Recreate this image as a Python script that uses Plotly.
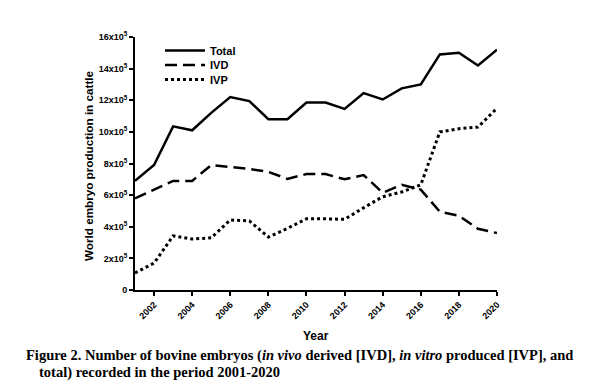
import plotly.graph_objects as go

years = list(range(2001, 2021))
total = [6.9, 7.9, 10.35, 10.1, 11.2, 12.2, 11.95, 10.8, 10.8, 11.85,
         11.85, 11.45, 12.45, 12.05, 12.75, 13.0, 14.9, 15.0, 14.2, 15.2]
ivd = [5.8, 6.35, 6.9, 6.9, 7.9, 7.78, 7.65, 7.47, 7.03, 7.33,
       7.33, 7.0, 7.27, 6.15, 6.65, 6.35, 4.95, 4.7, 3.87, 3.6]
ivp = [1.08, 1.7, 3.42, 3.22, 3.3, 4.43, 4.37, 3.35, 3.9, 4.5,
       4.5, 4.47, 5.2, 5.9, 6.2, 6.65, 10.0, 10.2, 10.3, 11.5]
scale = 1e5
ytick_vals = [0, 2, 4, 6, 8, 10, 12, 14, 16]
ytick_text = ["0"] + [f"{v}x10<sup>5</sup>" for v in ytick_vals[1:]]
xtick_vals = list(range(2002, 2021, 2))

# page has an 8px body margin: figure starts at (8, 8)
OFF = 8
W, H = 590, 377
L, T = 135 - OFF, 37 - OFF
R = W - (497 - OFF)
B = H - (290 - OFF)
ph = H - T - B
pw = W - L - R


def px(xp):
    return (xp - OFF - L) / pw


def py(yp):
    return 1 - (yp - OFF - T) / ph


fig = go.Figure()
fig.add_trace(go.Scatter(x=years, y=[v * scale for v in total], name="Total", mode="lines",
                         line=dict(color="black", width=2.5), legend="legend"))
fig.add_trace(go.Scatter(x=years, y=[v * scale for v in ivd], name="IVD", mode="lines",
                         line=dict(color="black", width=2.5, dash="12px,6px"), legend="legend2"))
fig.add_trace(go.Scatter(x=years, y=[v * scale for v in ivp], name="IVP", mode="lines",
                         line=dict(color="black", width=3, dash="dot"), legend="legend3"))

leg_font = dict(size=11, family="Liberation Sans, Arial", weight="bold", color="black")
leg_x = px(160)


def leg(yc):
    return dict(x=leg_x, y=py(yc), xanchor="left", yanchor="middle", font=leg_font,
                bgcolor="rgba(0,0,0,0)", itemwidth=40)


fig.update_layout(
    width=W, height=H,
    margin=dict(l=L, r=R, t=T, b=B, autoexpand=False),
    paper_bgcolor="white", plot_bgcolor="white",
    font=dict(family="Liberation Sans, Arial", color="black"),
    showlegend=True,
    legend=leg(50.5), legend2=leg(65), legend3=leg(79.5),
    xaxis=dict(range=[2001, 2020], tickvals=xtick_vals, tickangle=-45, automargin=False,
               showgrid=False, zeroline=False, showline=True, linecolor="black", linewidth=2,
               ticks="outside", ticklen=4, tickwidth=1.5, tickcolor="black",
               tickfont=dict(size=9, weight="bold")),
    yaxis=dict(range=[0, 16e5], tickvals=[v * scale for v in ytick_vals], ticktext=ytick_text,
               automargin=False,
               showgrid=False, zeroline=False, showline=True, linecolor="black", linewidth=2,
               ticks="outside", ticklen=4, tickwidth=1.5, tickcolor="black",
               tickfont=dict(size=9, weight="bold")),
)

fig.add_annotation(text="<b>Year</b>", xref="paper", yref="paper", x=px(316), y=py(336),
                   xanchor="center", yanchor="middle", showarrow=False,
                   font=dict(size=12, family="Liberation Sans, Arial", color="black"))
fig.add_annotation(text="<b>World embryo production in cattle</b>", xref="paper", yref="paper",
                   x=px(88), y=py(166), textangle=-90,
                   xanchor="center", yanchor="middle", showarrow=False,
                   font=dict(size=11.7, family="Liberation Sans, Arial", color="black"))

cap_font = dict(family="Liberation Serif, DejaVu Serif", size=14.5, color="black")
fig.add_annotation(text="<b>Figure 2. Number of bovine embryos (<i>in vivo</i> derived [IVD], <i>in vitro</i> produced [IVP], and</b>",
                   xref="paper", yref="paper", x=px(24), y=py(355), xanchor="left", yanchor="middle",
                   showarrow=False, font=cap_font)
fig.add_annotation(text="<b>total) recorded in the period 2001-2020</b>",
                   xref="paper", yref="paper", x=px(37), y=py(372), xanchor="left", yanchor="middle",
                   showarrow=False, font=cap_font)

fig.write_html("out.html",
               post_script="document.documentElement.style.overflow='hidden';document.body.style.overflow='hidden';")
